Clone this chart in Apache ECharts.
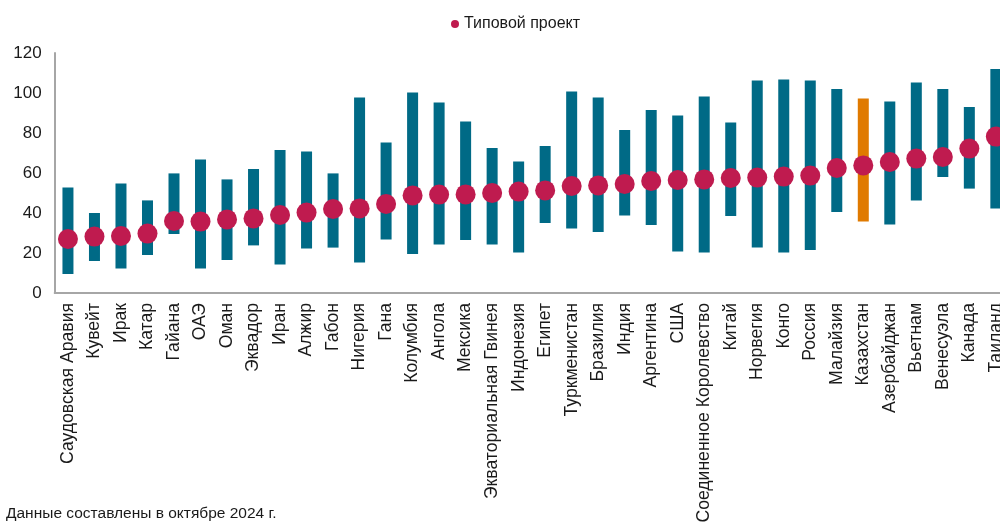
<!DOCTYPE html>
<html>
<head>
<meta charset="utf-8">
<script src="https://cdn.jsdelivr.net/npm/echarts@6/dist/echarts.min.js"></script>
<style>
html,body{margin:0;padding:0;background:#fff;}
#c{width:1000px;height:524px;}
</style>
</head>
<body>
<div id="c"></div>
<script>
const categories = ['Саудовская Аравия','Кувейт','Ирак','Катар','Гайана','ОАЭ','Оман','Эквадор','Иран','Алжир','Габон','Нигерия','Гана','Колумбия','Ангола','Мексика','Экваториальная Гвинея','Индонезия','Египет','Туркменистан','Бразилия','Индия','Аргентина','США','Соединенное Королевство','Китай','Норвегия','Конго','Россия','Малайзия','Казахстан','Азербайджан','Вьетнам','Венесуэла','Канада','Таиланд'];
const lows  = [9.5,16,12.2,19,29.5,12.2,16.5,23.8,14.3,22.2,22.7,15.3,26.8,19.5,24.3,26.5,24.3,20.2,35,32.2,30.5,38.7,34,20.7,20.2,38.5,22.8,20.2,21.5,40.5,35.8,34.3,46.3,58,52.2,42.2];
const highs = [52.7,40,54.7,46.3,59.8,66.8,56.8,62,71.5,70.8,59.8,97.8,75.2,100.3,95.2,85.7,72.5,65.7,73.5,100.8,97.8,81.5,91.5,88.8,98.2,85.3,106.2,106.7,106.2,102,97.2,95.8,105.2,102,93,112];
const typical = [27,28.2,28.5,29.7,36,35.7,36.8,37.3,39,40.2,42,42.3,44.5,48.8,49.2,49.3,50,50.7,51.3,53.5,53.8,54.5,56,56.5,56.8,57.5,57.7,58.2,58.7,62.5,63.8,65.5,67.2,68,72.2,78.2];
const yTicks = [0,20,40,60,80,100,120];
const highlight = 'Казахстан';
const legendName = 'Типовой проект';
const footnote = 'Данные составлены в октябре 2024 г.';

const TEAL = '#006A86', ORANGE = '#E07A00', DOT = '#BF1B4F';
const FONT = 'Liberation Sans, Arial, sans-serif';

const chart = echarts.init(document.getElementById('c'), null, {renderer:'canvas'});
chart.setOption({
  animation:false,
  backgroundColor:'#fff',
  textStyle:{fontFamily:FONT},
  legend:{
    data:[{name:legendName, icon:'circle'}],
    top:11, left:446,
    itemWidth:8, itemHeight:8, itemGap:6,
    textStyle:{fontSize:16, color:'#1a1a1a', fontFamily:FONT}
  },
  grid:{left:54.7, right:-9.1, top:53, bottom:231, containLabel:false, outerBoundsMode:'none'},
  xAxis:{
    type:'category', data:categories,
    axisLine:{lineStyle:{color:'#A6A6A6', width:2}},
    axisTick:{show:false},
    axisLabel:{interval:0, rotate:90, margin:10, fontSize:17.6, color:'#1a1a1a', fontFamily:FONT}
  },
  yAxis:{
    type:'value', min:yTicks[0], max:yTicks[yTicks.length-1], interval:20,
    axisLine:{show:true, lineStyle:{color:'#A6A6A6', width:2}},
    axisTick:{show:false},
    splitLine:{show:false},
    axisLabel:{margin:13, fontSize:17, color:'#1a1a1a', fontFamily:FONT}
  },
  series:[
    {
      name:'base', type:'bar', stack:'r', barWidth:11, silent:true,
      itemStyle:{color:'rgba(0,0,0,0)'},
      data:lows
    },
    {
      name:'range', type:'bar', stack:'r', barWidth:11,
      data:highs.map((h,i)=>({
        value:+(h-lows[i]).toFixed(2),
        itemStyle:{color: categories[i]===highlight ? ORANGE : TEAL}
      }))
    },
    {
      name:legendName, type:'scatter', symbol:'circle', symbolSize:20, z:5,
      itemStyle:{color:DOT, opacity:1},
      data:typical
    }
  ],
  graphic:[{
    type:'text', left:6, top:506,
    style:{text:footnote, fontSize:15.5, fill:'#1a1a1a', fontFamily:FONT}
  }]
});
</script>
</body>
</html>
